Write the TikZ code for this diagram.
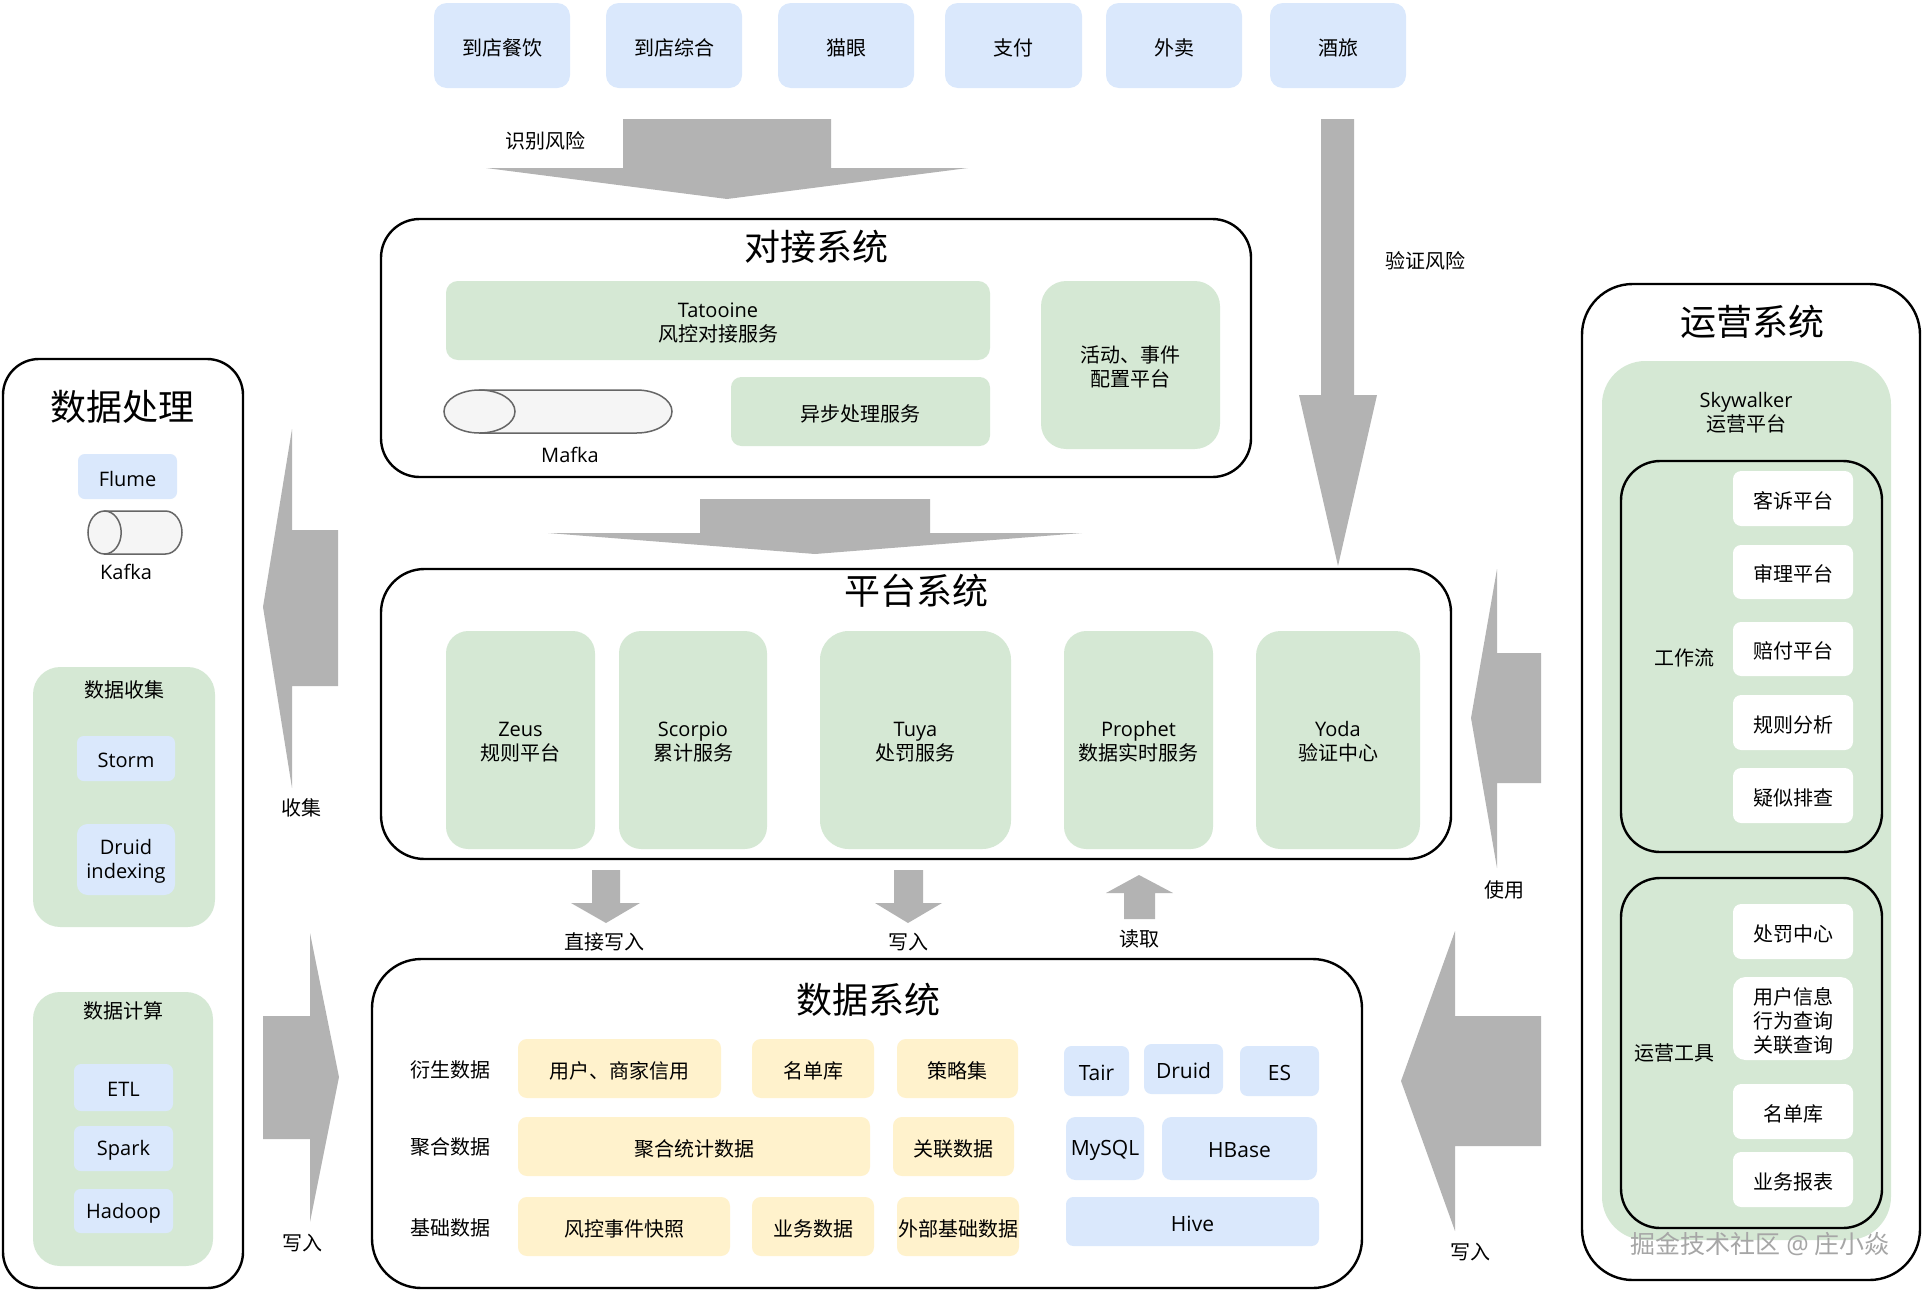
\documentclass[tikz,border=0pt]{standalone}
\usepackage{fontspec}
\setmainfont{Noto Sans CJK SC}
\newfontfamily\lat{Open Sans}
\definecolor{bl}{HTML}{DAE8FC}
\definecolor{gr}{HTML}{D5E8D4}
\definecolor{yl}{HTML}{FFF2CC}
\definecolor{ar}{HTML}{B3B3B3}
\definecolor{cyl}{HTML}{F5F5F5}
\definecolor{cyd}{HTML}{666666}
\newcommand\bx[7]{%
  \pgfmathsetmacro\myW{#4-#2}%
  \pgfmathsetmacro\myH{#5-#3}%
  \pgfmathsetmacro\myR{0.15*min(\myW,\myH)}%
  \node[#6,minimum width=\myW pt,minimum height=\myH pt,rounded corners=\myR pt] (#1) at ({(#2+#4)/2},{(#3+#5)/2}) {};%
  \node[#6,draw=none,fill=none,lab] (#1-t) at (#1.center) {#7};%
}
\tikzset{
  every node/.style={inner sep=0pt,outer sep=0pt,align=center,font=\fontsize{20}{24}\selectfont},
  lab/.style={yshift=-2pt},
  sys/.style={draw=black,line width=2.4pt,fill=white},
  grpbox/.style={draw=black,line width=2.4pt},
  bluebox/.style={fill=bl},
  greenbox/.style={fill=gr},
  yelbox/.style={fill=yl},
  whitebox/.style={fill=white},
  bigarrow/.style={fill=ar},
  ttl/.style={font=\fontsize{36}{40}\selectfont},
  cylst/.style={fill=cyl,draw=cyd,line width=1.5pt},
  wmark/.style={font=\fontsize{25}{30}\selectfont,text=black!35},
  dbtxt/.style={font=\fontsize{21}{25}\selectfont},
}
\begin{document}
\begin{tikzpicture}[x=1pt,y=-1pt]
\useasboundingbox (0,0) rectangle (1922,1291);
% ---------- top business boxes ----------
\bx{b1}{434}{3}{570}{88}{bluebox}{到店餐饮}
\bx{b2}{606}{3}{742}{88}{bluebox}{到店综合}
\bx{b3}{778}{3}{914}{88}{bluebox}{猫眼}
\bx{b4}{945}{3}{1082}{88}{bluebox}{支付}
\bx{b5}{1106}{3}{1242}{88}{bluebox}{外卖}
\bx{b6}{1270}{3}{1406}{88}{bluebox}{酒旅}
% ---------- 对接系统 ----------
\bx{djxt}{381}{219}{1251}{477}{sys}{}
\node[ttl] (djt) at (816,247) {对接系统};
\bx{tato}{446}{281}{990}{360}{greenbox}{{\lat Tatooine}\\风控对接服务}
\bx{async}{731}{377}{990}{446}{greenbox}{异步处理服务}
\bx{hdsj}{1041}{281}{1220}{449}{greenbox}{活动、事件\\配置平台}
\filldraw[cylst] (479.5,390) -- (636.5,390) arc[start angle=90,end angle=-90,x radius=35.5pt,y radius=21.5pt] -- (479.5,433) -- cycle;
\filldraw[cylst] (479.5,411.5) ellipse [x radius=35.5pt,y radius=21.5pt];
\coordinate (mafka) at (558,411.5);
\node (mafkal) at (570,455) {\lat Mafka};
% ---------- 平台系统 ----------
\bx{ptxt}{381}{569}{1451}{859}{sys}{}
\node[ttl] (ptt) at (916,591) {平台系统};
\bx{zeus}{446}{631}{595}{849}{greenbox}{{\lat Zeus}\\规则平台}
\bx{scorpio}{619}{631}{767}{849}{greenbox}{{\lat Scorpio}\\累计服务}
\bx{tuya}{820}{631}{1011}{849}{greenbox}{{\lat Tuya}\\处罚服务}
\bx{prophet}{1064}{631}{1213}{849}{greenbox}{{\lat Prophet}\\数据实时服务}
\bx{yoda}{1256}{631}{1420}{849}{greenbox}{{\lat Yoda}\\验证中心}
% ---------- 数据系统 ----------
\bx{sjxt}{372}{959}{1362}{1288}{sys}{}
\node[ttl] (sjt) at (868,1000) {数据系统};
\node (r1) at (450,1070) {衍生数据};
\node (r2) at (450,1147) {聚合数据};
\node (r3) at (450,1228) {基础数据};
\bx{y1}{518}{1039}{721}{1098}{yelbox}{用户、商家信用}
\bx{y2}{752}{1039}{874}{1098}{yelbox}{名单库}
\bx{y3}{897}{1039}{1018}{1098}{yelbox}{策略集}
\bx{y4}{518}{1117}{870}{1176}{yelbox}{聚合统计数据}
\bx{y5}{893}{1117}{1014}{1176}{yelbox}{关联数据}
\bx{y6}{518}{1197}{730}{1256}{yelbox}{风控事件快照}
\bx{y7}{752}{1197}{874}{1256}{yelbox}{业务数据}
\bx{y8}{897}{1197}{1019}{1256}{yelbox}{外部基础数据}
\bx{tair}{1064}{1046}{1129}{1096}{bluebox,dbtxt}{\lat Tair}
\bx{druid}{1144}{1044}{1223}{1094}{bluebox,dbtxt}{\lat Druid}
\bx{es}{1240}{1046}{1319}{1096}{bluebox,dbtxt}{\lat ES}
\bx{mysql}{1066}{1117}{1144}{1180}{bluebox,dbtxt}{\lat MySQL}
\bx{hbase}{1162}{1117}{1317}{1180}{bluebox,dbtxt}{\lat HBase}
\bx{hive}{1066}{1197}{1319}{1246}{bluebox,dbtxt}{\lat Hive}
% ---------- 数据处理 ----------
\bx{sjcl}{3}{359}{243}{1288}{sys}{}
\node[ttl] (sjclt) at (122,407) {数据处理};
\bx{flume}{78}{454}{177}{499}{bluebox}{\lat Flume}
\filldraw[cylst] (104.6,511) -- (165.4,511) arc[start angle=90,end angle=-90,x radius=16.6pt,y radius=21.5pt] -- (104.6,554) -- cycle;
\filldraw[cylst] (104.6,532.5) ellipse [x radius=16.6pt,y radius=21.5pt];
\coordinate (kafka) at (135,532.5);
\node (kafkal) at (126,572) {\lat Kafka};
\bx{sjsj}{33}{667}{215}{927}{greenbox}{}
\node (sjsjl) at (124,690) {数据收集};
\bx{storm}{77}{736}{175}{781}{bluebox}{\lat Storm}
\bx{druidi}{77}{824}{175}{895}{bluebox}{\lat Druid\\\lat indexing}
\bx{sjjs}{33}{992}{213}{1266}{greenbox}{}
\node (sjjsl) at (123,1011) {数据计算};
\bx{etl}{74}{1064}{173}{1111}{bluebox}{\lat ETL}
\bx{spark}{74}{1126}{173}{1171}{bluebox}{\lat Spark}
\bx{hadoop}{74}{1189}{173}{1233}{bluebox}{\lat Hadoop}
% ---------- 运营系统 ----------
\bx{yyxt}{1582}{284}{1920}{1280}{sys}{}
\node[ttl] (yyt) at (1752,322) {运营系统};
\bx{sky}{1602}{361}{1891}{1240}{greenbox}{}
\node[lab] (skyl) at (1746,411) {{\lat Skywalker}\\运营平台};
\bx{gzl}{1621}{461}{1882}{852}{grpbox}{}
\node[lab] (gzll) at (1684,656) {工作流};
\bx{w1}{1733}{471}{1853}{526}{whitebox}{客诉平台}
\bx{w2}{1733}{545}{1853}{599}{whitebox}{审理平台}
\bx{w3}{1733}{622}{1853}{676}{whitebox}{赔付平台}
\bx{w4}{1733}{695}{1853}{750}{whitebox}{规则分析}
\bx{w5}{1733}{768}{1853}{823}{whitebox}{疑似排查}
\bx{yygj}{1621}{878}{1882}{1228}{grpbox}{}
\node (yygjl) at (1674,1053) {运营工具};
\bx{t1}{1733}{904}{1853}{959}{whitebox}{处罚中心}
\bx{t2}{1733}{977}{1853}{1060}{whitebox}{用户信息\\行为查询\\关联查询}
\bx{t3}{1733}{1084}{1853}{1139}{whitebox}{名单库}
\bx{t4}{1733}{1152}{1853}{1207}{whitebox}{业务报表}
\node[wmark] (wm) at (1760,1244) {掘金技术社区 {\lat @} 庄小焱};
% ---------- big arrows ----------
\fill[bigarrow] (623,119) -- (831,119) -- (831,168) -- (968,168) -- (727,199) -- (486,168) -- (623,168) -- cycle;
\node (l1) at (545,141) {识别风险};
\fill[bigarrow] (700,499) -- (930,499) -- (930,533) -- (1082,533) -- (815,554) -- (548,533) -- (700,533) -- cycle;
\fill[bigarrow] (1321,119) -- (1354,119) -- (1354,395) -- (1377,395) -- (1338,566) -- (1299,395) -- (1321,395) -- cycle;
\node (l2) at (1425,261) {验证风险};
\fill[bigarrow] (338,530) -- (338,686) -- (292,686) -- (292,788) -- (263,607) -- (292,429) -- (292,530) -- cycle;
\node (l3) at (301,808) {收集};
\fill[bigarrow] (263,1016) -- (310,1016) -- (310,933) -- (339,1077) -- (310,1222) -- (310,1139) -- (263,1139) -- cycle;
\node (l4) at (302,1243) {写入};
\fill[bigarrow] (1541,653) -- (1541,783) -- (1497,783) -- (1497,868) -- (1471,718) -- (1497,569) -- (1497,653) -- cycle;
\node (l5) at (1504,890) {使用};
\fill[bigarrow] (1541,1016) -- (1541,1146) -- (1455,1146) -- (1455,1231) -- (1401,1081) -- (1455,931) -- (1455,1016) -- cycle;
\node (l6) at (1470,1252) {写入};
\fill[bigarrow] (592,870) -- (620,870) -- (620,903) -- (640,903) -- (606,923) -- (571,903) -- (592,903) -- cycle;
\node (l7) at (604,942) {直接写入};
\fill[bigarrow] (894,870) -- (923,870) -- (923,903) -- (942,903) -- (908,923) -- (875,903) -- (894,903) -- cycle;
\node (l8) at (908,942) {写入};
\fill[bigarrow] (1124,919) -- (1155,919) -- (1155,893) -- (1173,893) -- (1139,875) -- (1106,893) -- (1124,893) -- cycle;
\node (l9) at (1139,939) {读取};
\end{tikzpicture}
\end{document}
